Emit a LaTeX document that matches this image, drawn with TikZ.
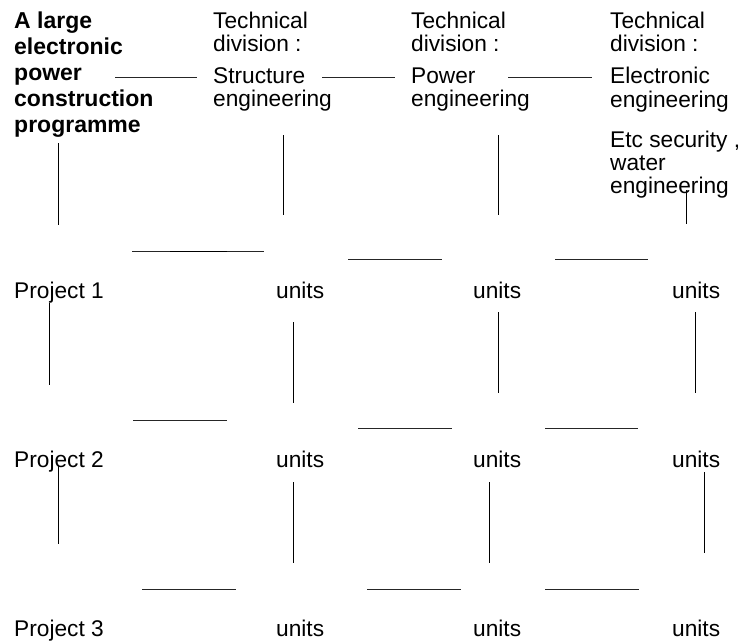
\documentclass[tikz,border=0pt]{standalone}
\usepackage{fontspec}
\setmainfont{Liberation Sans}
\begin{document}
\begin{tikzpicture}[x=1pt,y=-1pt,
  txt/.style={anchor=base west, inner sep=0pt, font=\fontsize{22.7}{24}\selectfont},
  head/.style={anchor=base west, inner sep=0pt, font=\fontsize{23}{26}\selectfont\bfseries},
  seg/.style={draw=black!85, line width=0.9pt},
  vseg/.style={draw=black, line width=0.9pt}]
\useasboundingbox[fill=white] (0,0) rectangle (742,641);

% programme title
\node[head] (p1) at (14,28)  {A large};
\node[head] (p2) at (14,54)  {electronic};
\node[head] (p3) at (14,80)  {power};
\node[head] (p4) at (14,106) {construction};
\node[head] (p5) at (14,132) {programme};

% technical divisions
\node[txt] (a1) at (213,28)  {Technical};
\node[txt] (a2) at (213,51)  {division :};
\node[txt] (a3) at (213,83)  {Structure};
\node[txt] (a4) at (213,106) {engineering};

\node[txt] (b1) at (411,28)  {Technical};
\node[txt] (b2) at (411,51)  {division :};
\node[txt] (b3) at (411,83)  {Power};
\node[txt] (b4) at (411,106) {engineering};

\node[txt] (c1) at (610,28)  {Technical};
\node[txt] (c2) at (610,51)  {division :};
\node[txt] (c3) at (610,83)  {Electronic};
\node[txt] (c4) at (610,107) {engineering};
\node[txt] (c5) at (610,147) {Etc security ,};
\node[txt] (c6) at (610,170) {water};
\node[txt] (c7) at (610,193) {engineering};

% projects and units
\node[txt] (r1) at (14,298) {Project 1};
\node[txt] (r2) at (14,467) {Project 2};
\node[txt] (r3) at (14,636) {Project 3};
\node[txt] (u11) at (276,298) {units};
\node[txt] (u12) at (473,298) {units};
\node[txt] (u13) at (672,298) {units};
\node[txt] (u21) at (276,467) {units};
\node[txt] (u22) at (473,467) {units};
\node[txt] (u23) at (672,467) {units};
\node[txt] (u31) at (276,636) {units};
\node[txt] (u32) at (473,636) {units};
\node[txt] (u33) at (672,636) {units};

% top row links
\draw[seg] (115,77) coordinate (t1s) -- (197,77) coordinate (t1e);
\draw[seg] (322,77) coordinate (t2s) -- (395,77) coordinate (t2e);
\draw[seg] (508,77) coordinate (t3s) -- (592,77) coordinate (t3e);

% drops from the heading row
\draw[vseg] (58,143) coordinate (d0s) -- (58,225) coordinate (d0e);
\draw[vseg] (283,135) coordinate (d1s) -- (283,215) coordinate (d1e);
\draw[vseg] (498,135) coordinate (d2s) -- (498,215) coordinate (d2e);
\draw[vseg] (686,190) coordinate (d3s) -- (686,224) coordinate (d3e);

% bars between heading row and project 1
\draw[seg] (132,251) coordinate (h1s) -- (264,251) coordinate (h1e);
\draw[vseg] (170,251) coordinate (h1m) -- (227,251) coordinate (h1n);
\draw[seg] (348,259) coordinate (h2s) -- (442,259) coordinate (h2e);
\draw[seg] (555,259) coordinate (h3s) -- (648,259) coordinate (h3e);

% drops from project 1
\draw[vseg] (49,303) coordinate (e0s) -- (49,385) coordinate (e0e);
\draw[vseg] (293,322) coordinate (e1s) -- (293,403) coordinate (e1e);
\draw[vseg] (498,312) coordinate (e2s) -- (498,393) coordinate (e2e);
\draw[vseg] (695,312) coordinate (e3s) -- (695,393) coordinate (e3e);

% bars between project 1 and project 2
\draw[seg] (133,420) coordinate (k1s) -- (227,420) coordinate (k1e);
\draw[seg] (358,428) coordinate (k2s) -- (452,428) coordinate (k2e);
\draw[seg] (545,428) coordinate (k3s) -- (638,428) coordinate (k3e);

% drops from project 2
\draw[vseg] (58,465) coordinate (f0s) -- (58,544) coordinate (f0e);
\draw[vseg] (293,482) coordinate (f1s) -- (293,563) coordinate (f1e);
\draw[vseg] (489,482) coordinate (f2s) -- (489,563) coordinate (f2e);
\draw[vseg] (704,472) coordinate (f3s) -- (704,553) coordinate (f3e);

% bars between project 2 and project 3
\draw[seg] (142,589) coordinate (m1s) -- (236,589) coordinate (m1e);
\draw[seg] (367,589) coordinate (m2s) -- (461,589) coordinate (m2e);
\draw[seg] (545,589) coordinate (m3s) -- (639,589) coordinate (m3e);
\end{tikzpicture}
\end{document}
